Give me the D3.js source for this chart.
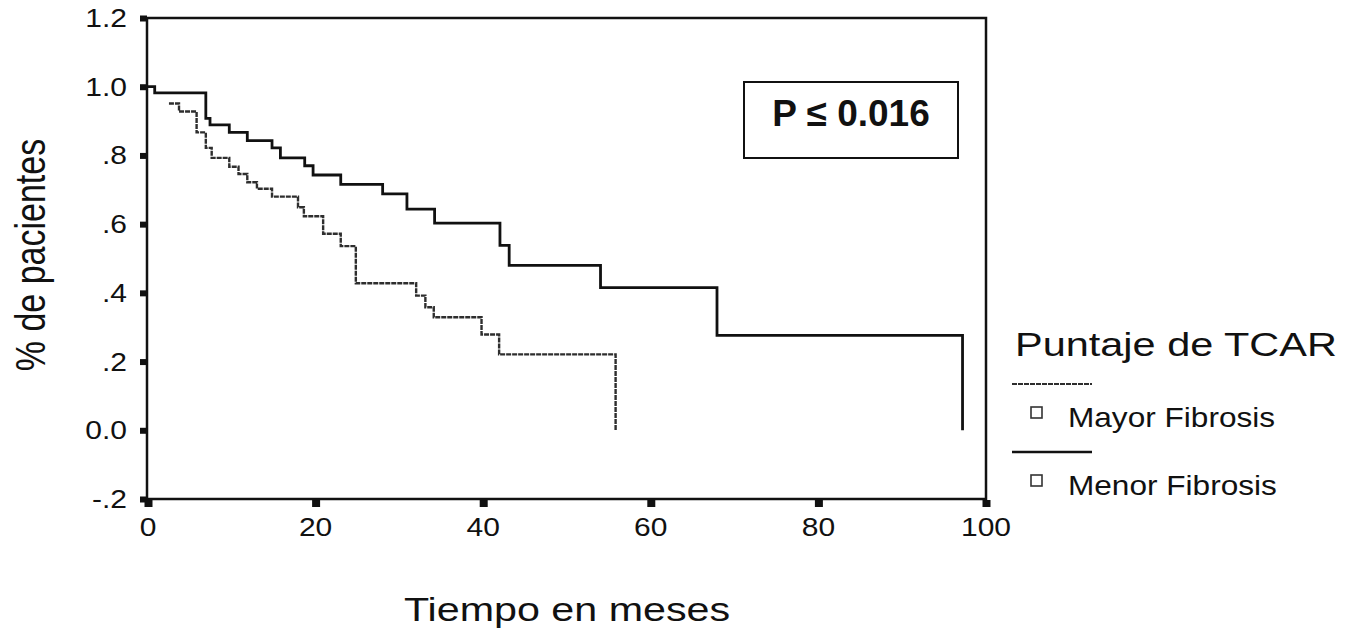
<!DOCTYPE html>
<html>
<head>
<meta charset="utf-8">
<script src="https://cdn.jsdelivr.net/npm/d3@7"></script>
<style>
  html, body { margin: 0; padding: 0; background: #fff; }
  svg { display: block; }
  text { font-family: "Liberation Sans", Arial, Helvetica, sans-serif; fill: #111; }
</style>
</head>
<body>
<svg id="chart" width="1356" height="631"></svg>
<script>
// ---- data ----
const xTicks = [0, 20, 40, 60, 80, 100];
const xTickLabels = ["0", "20", "40", "60", "80", "100"];
const yTicks = [1.2, 1.0, 0.8, 0.6, 0.4, 0.2, 0.0, -0.2];
const yTickLabels = ["1.2", "1.0", ".8", ".6", ".4", ".2", "0.0", "-.2"];

// Mayor Fibrosis (grey step curve)
const mayorTime = [2.5, 3.7, 5.8, 6.9, 7.6, 9.7, 10.8, 11.85, 13.0, 14.8, 17.9, 18.6, 20.9, 23.0, 24.8, 32.0, 33.1, 34.1, 39.8, 41.9, 55.8];
const mayorSurv = [0.951, 0.928, 0.867, 0.822, 0.793, 0.767, 0.746, 0.722, 0.703, 0.680, 0.649, 0.623, 0.572, 0.536, 0.428, 0.392, 0.358, 0.329, 0.279, 0.221, 0.0];

// Menor Fibrosis (black step curve)
const menorTime = [0, 0.8, 6.9, 7.4, 9.7, 11.85, 14.8, 15.8, 18.7, 19.7, 23.0, 28.0, 30.9, 34.2, 42.0, 43.1, 54.0, 67.9, 97.2];
const menorSurv = [1.0, 0.982, 0.908, 0.889, 0.867, 0.843, 0.822, 0.793, 0.770, 0.743, 0.716, 0.688, 0.644, 0.603, 0.538, 0.480, 0.415, 0.276, 0.0];

const seriesNames = ["Mayor Fibrosis", "Menor Fibrosis"];
const legendTitle = "Puntaje de TCAR";
const xTitle = "Tiempo en meses";
const yTitle = "% de pacientes";
const pLabel = "P \u2264 0.016";

// ---- layout ----
const svg = d3.select("#chart");
svg.append("rect").attr("width", 1356).attr("height", 631).attr("fill", "#fff");

const x = d3.scaleLinear().domain([0, 100]).range([148, 986]);
const y = d3.scaleLinear().domain([-0.2, 1.2]).range([499, 18]);

// ticks (thick short marks) via d3 axes
const yAxis = d3.axisLeft(y).tickValues(yTicks).tickSize(7).tickFormat("");
const gy = svg.append("g").attr("transform", `translate(${x(0) - 1},0)`).call(yAxis);
gy.select(".domain").remove();
gy.selectAll(".tick line").attr("stroke", "#111").attr("stroke-width", 6);

const xAxis = d3.axisBottom(x).tickValues(xTicks).tickSize(7).tickFormat("");
const gx = svg.append("g").attr("transform", `translate(0,${y(-0.2) + 1})`).call(xAxis);
gx.select(".domain").remove();
gx.selectAll(".tick line").attr("stroke", "#111").attr("stroke-width", 8);

// frame
svg.append("rect")
  .attr("x", x(0) - 1).attr("y", y(1.2))
  .attr("width", x(100) - x(0) + 1).attr("height", y(-0.2) - y(1.2))
  .attr("fill", "none").attr("stroke", "#111").attr("stroke-width", 2.5);

// tick labels
svg.append("g").selectAll("text").data(yTicks).join("text")
  .attr("transform", d => `translate(127,${y(d) + 9}) scale(1.2,1)`)
  .attr("text-anchor", "end").attr("font-size", 25)
  .text((d, i) => yTickLabels[i]);

svg.append("g").selectAll("text").data(xTicks).join("text")
  .attr("transform", d => `translate(${x(d)},536) scale(1.2,1)`)
  .attr("text-anchor", "middle").attr("font-size", 25)
  .text((d, i) => xTickLabels[i]);

// axis titles
svg.append("text")
  .attr("transform", "translate(45,255) rotate(-90) scale(1,1.25)")
  .attr("text-anchor", "middle").attr("font-size", 34)
  .text(yTitle);

svg.append("text")
  .attr("transform", `translate(${(x(0) + x(100)) / 2},621) scale(1.25,1)`)
  .attr("text-anchor", "middle").attr("font-size", 33)
  .text(xTitle);

// curves
const line = d3.line().x(d => x(d[0])).y(d => y(d[1])).curve(d3.curveStepAfter);
const mayorData = mayorTime.map((t, i) => [t, mayorSurv[i]]);
const menorData = menorTime.map((t, i) => [t, menorSurv[i]]);

svg.append("path").datum(mayorData).attr("d", line)
  .attr("fill", "none").attr("stroke", "#2e2e2e").attr("stroke-width", 2.4)
  .attr("stroke-dasharray", "5,1");
svg.append("path").datum(menorData).attr("d", line)
  .attr("fill", "none").attr("stroke", "#111").attr("stroke-width", 2.8);

// P-value box
svg.append("rect").attr("x", 744).attr("y", 82).attr("width", 214).attr("height", 76)
  .attr("fill", "#fff").attr("stroke", "#111").attr("stroke-width", 2);
svg.append("text").attr("x", 851).attr("y", 126).attr("text-anchor", "middle")
  .attr("font-size", 37).attr("font-weight", "bold").text(pLabel);

// legend
const lg = svg.append("g");
lg.append("text").attr("transform", "translate(1015,356) scale(1.22,1)")
  .attr("font-size", 34).text(legendTitle);

const legendStyles = [
  { stroke: "#2e2e2e", width: 2.2, dash: "5,1" },
  { stroke: "#111", width: 2.4, dash: null }
];
seriesNames.forEach((name, i) => {
  const oy = i * 68;
  lg.append("line").attr("x1", 1012).attr("x2", 1092)
    .attr("y1", 384 + oy).attr("y2", 384 + oy)
    .attr("stroke", legendStyles[i].stroke).attr("stroke-width", legendStyles[i].width)
    .attr("stroke-dasharray", legendStyles[i].dash);
  lg.append("rect").attr("x", 1031).attr("y", 407 + oy).attr("width", 11).attr("height", 11)
    .attr("fill", "#fff").attr("stroke", "#333").attr("stroke-width", 1.6);
  lg.append("text").attr("transform", `translate(1068,${427 + oy}) scale(1.17,1)`)
    .attr("font-size", 27).text(name);
});
</script>
</body>
</html>
